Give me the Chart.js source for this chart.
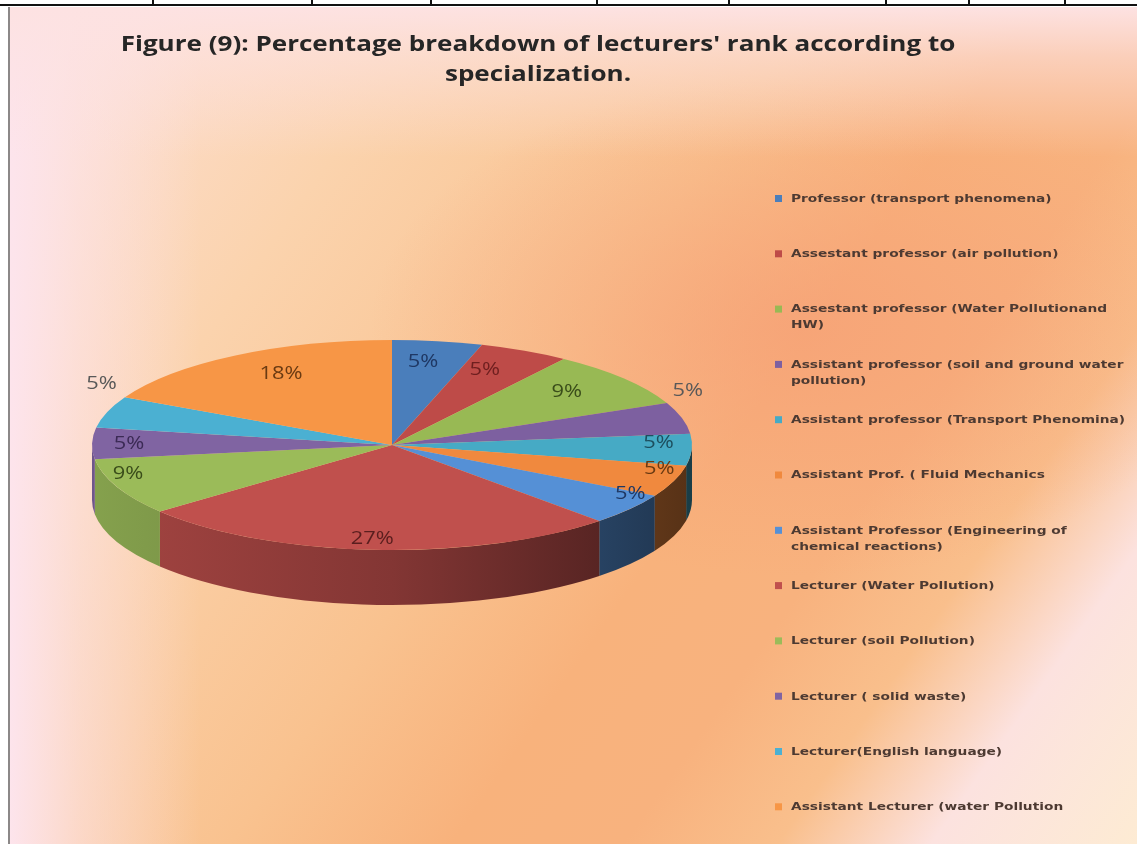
<!DOCTYPE html>
<html>
<head>
<meta charset="utf-8">
<script src="https://cdn.jsdelivr.net/npm/chart.js@4"></script>
<style>
    body { margin: 0; background: #fff; }
    #page { position: relative; width: 1137px; height: 844px; overflow: hidden; background: #fff; }
    #frame {
        position: absolute; left: 8px; top: 7px; right: 0; bottom: 0;
        border-left: 2px solid #8c8888;
        background:
            linear-gradient(to bottom, rgba(253,226,226,1) 0px, rgba(253,226,226,0.6) 50px, rgba(253,226,226,0) 150px),
            linear-gradient(to right, rgba(253,228,236,1) 0px, rgba(253,228,236,0.55) 70px, rgba(253,228,236,0) 190px),
            radial-gradient(ellipse 430px 250px at 790px 320px, rgba(246,160,118,0.75), rgba(246,160,118,0) 100%),
            linear-gradient(125deg, #fde2dc 0%, #fbd3ad 25%, #f9c28f 47%, #f8b27c 60%, #f8b27e 70%, #f9bf8c 79%, #fce2df 88%, #fdebd3 100%);
    }
    .rule { position: absolute; background: #111; }
    canvas { position: absolute; left: 0; top: 0; }
</style>
</head>
<body>
<div id="page">
    <div id="frame"></div>
    <canvas id="chart" width="1137" height="844"></canvas>
</div>
<script>
// 범례 항목 (긴 이름은 두 줄로)
const categories = [
    "Professor (transport phenomena)",
    "Assestant professor (air pollution)",
    ["Assestant professor (Water Pollutionand", "HW)"],
    ["Assistant professor (soil and ground water", "pollution)"],
    "Assistant professor (Transport Phenomina)",
    "Assistant Prof. ( Fluid Mechanics",
    ["Assistant Professor (Engineering of", "chemical reactions)"],
    "Lecturer (Water Pollution)",
    "Lecturer (soil Pollution)",
    "Lecturer ( solid waste)",
    "Lecturer(English language)",
    "Assistant Lecturer (water Pollution",
];

// 비율(%)
const shares = [5, 5, 9, 5, 5, 5, 5, 27, 9, 5, 5, 18];

const titleLines = [
    "Figure (9): Percentage breakdown of lecturers' rank according to",
    "specialization.",
];

const sliceColors = [
    "#4a7ebb", "#be4b48", "#98b954", "#7d60a0", "#46aac5", "#f0893e",
    "#5590d6", "#c0504d", "#9bbb59", "#8064a2", "#4bb0d2", "#f79646",
];
const labelColors = [
    "#1f3864", "#6e1f1f", "#3a4d1a", "#595959", "#1d4f5f", "#6a3a12",
    "#1f3864", "#5a1e1e", "#3a4d1a", "#3b2a55", "#595959", "#6a3a12",
];
const outsideLabels = [3, 10]; // 조각 밖에 표시되는 라벨

// 입체 원판 모양
const CX = 392, CY = 445, RY = 105, DEPTH = 55;

function shade(hex, f) {
    const n = parseInt(hex.slice(1), 16);
    const r = Math.round(((n >> 16) & 255) * f);
    const g = Math.round(((n >> 8) & 255) * f);
    const b = Math.round((n & 255) * f);
    return `rgb(${r},${g},${b})`;
}

// 옆으로 조금 늘린 글자
function wideText(ctx, text, x, y, sx) {
    ctx.save();
    ctx.translate(x, y);
    ctx.scale(sx, 1);
    ctx.fillText(text, 0, 0);
    ctx.restore();
}

const pie3d = {
    id: "pie3d",
    beforeDatasetsDraw(chart) {
        const ctx = chart.ctx;
        const arcs = chart.getDatasetMeta(0).data;
        const rx = arcs[0].outerRadius;

        // 옆면: 앞쪽(0 ~ π)만 보임
        arcs.forEach((arc, i) => {
            const a0 = Math.max(arc.startAngle, 0);
            const a1 = Math.min(arc.endAngle, Math.PI);
            if (a1 <= a0) return;
            const grad = ctx.createLinearGradient(CX - rx, 0, CX + rx, 0);
            grad.addColorStop(0, shade(sliceColors[i], 0.86));
            grad.addColorStop(0.5, shade(sliceColors[i], 0.68));
            grad.addColorStop(1, shade(sliceColors[i], 0.36));
            ctx.save();
            ctx.beginPath();
            ctx.ellipse(CX, CY, rx, RY, 0, a0, a1, false);
            ctx.lineTo(CX + rx * Math.cos(a1), CY + RY * Math.sin(a1) + DEPTH);
            ctx.ellipse(CX, CY + DEPTH, rx, RY, 0, a1, a0, true);
            ctx.closePath();
            ctx.fillStyle = grad;
            ctx.fill();
            ctx.restore();
        });

        // 윗면: 원을 납작하게 눌러서 그림
        ctx.save();
        ctx.translate(CX, CY);
        ctx.scale(1, RY / rx);
        ctx.translate(-arcs[0].x, -arcs[0].y);
    },
    afterDatasetsDraw(chart) {
        const ctx = chart.ctx;
        ctx.restore();

        const arcs = chart.getDatasetMeta(0).data;
        const rx = arcs[0].outerRadius;
        ctx.save();
        ctx.font = "19px 'Open Sans'";
        ctx.textAlign = "center";
        ctx.textBaseline = "middle";
        arcs.forEach((arc, i) => {
            const mid = (arc.startAngle + arc.endAngle) / 2;
            const c = Math.cos(mid), s = Math.sin(mid);
            let x, y;
            if (outsideLabels.includes(i)) {
                x = CX + 1.02 * rx * c;
                y = CY + 1.1 * RY * s - 25;
            } else if (s > 0) {
                // 앞쪽 조각은 바깥 가장자리 가까이
                x = CX + (0.88 + 0.2 * s) * rx * c;
                y = CY + (0.8 + 0.15 * s * s) * RY * s - 6;
            } else {
                x = CX + (0.88 + 0.2 * s) * rx * c;
                y = CY + 0.8 * RY * s;
            }
            ctx.fillStyle = labelColors[i];
            wideText(ctx, shares[i] + "%", x, y, 1.15);
        });
        ctx.restore();
    },
};

// 제목과 오른쪽 범례
const texts = {
    id: "texts",
    afterDraw(chart) {
        const ctx = chart.ctx;
        ctx.save();
        ctx.textBaseline = "middle";
        ctx.textAlign = "center";
        ctx.fillStyle = "#262626";
        ctx.font = "bold 21px 'Open Sans'";
        titleLines.forEach((line, k) => wideText(ctx, line, 538, 45 + k * 30, 1.24));

        ctx.textAlign = "left";
        ctx.font = "bold 11px 'DejaVu Sans'";
        categories.forEach((label, i) => {
            const y = 199 + i * 55.3;
            ctx.fillStyle = sliceColors[i];
            ctx.fillRect(775, y - 4, 7, 7);
            ctx.fillStyle = "#4d3a32";
            const lines = Array.isArray(label) ? label : [label];
            lines.forEach((line, k) => wideText(ctx, line, 791, y + k * 16, 1.25));
        });
        ctx.restore();
    },
};

// 위쪽 표 테두리
const page = document.getElementById("page");
const topRule = document.createElement("div");
topRule.className = "rule";
topRule.style.cssText = "left:0;top:4px;width:1137px;height:2px;";
page.appendChild(topRule);
[152, 311, 430, 596, 728, 885, 968, 1064].forEach(x => {
    const d = document.createElement("div");
    d.className = "rule";
    d.style.cssText = `left:${x}px;top:0;width:2px;height:5px;`;
    page.appendChild(d);
});

new Chart(document.getElementById("chart"), {
    type: "pie",
    data: {
        labels: categories,
        datasets: [{
            data: shares,
            backgroundColor: sliceColors,
            borderWidth: 0,
            radius: 300,
            clip: false,
        }],
    },
    options: {
        responsive: false,
        animation: false,
        events: [],
        plugins: {
            legend: { display: false },
            tooltip: { enabled: false },
            title: { display: false },
        },
    },
    plugins: [pie3d, texts],
});
</script>
</body>
</html>
